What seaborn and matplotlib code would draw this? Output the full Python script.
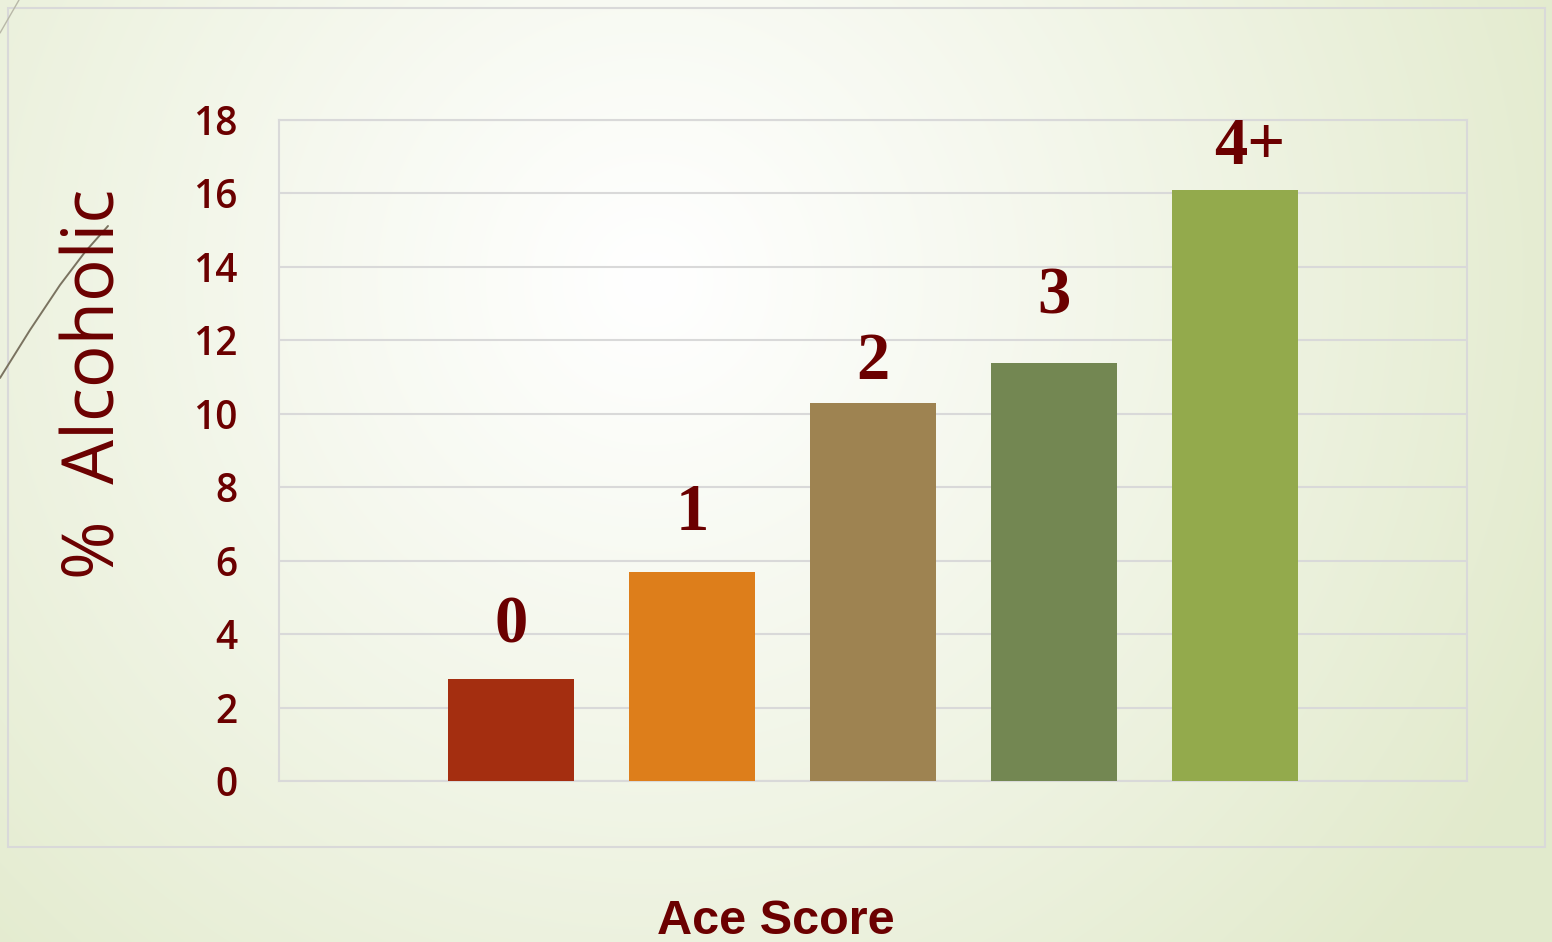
import numpy as np
import pandas as pd
import matplotlib
matplotlib.use("Agg")
import matplotlib.pyplot as plt
from matplotlib.patches import Rectangle
import seaborn as sns

# ---- data ----
categories = ["0", "1", "2", "3", "4+"]
values = [2.78, 5.69, 10.29, 11.38, 16.09]
bar_colors = ["#a42e10", "#dd7e1b", "#9e8351", "#738752", "#93aa4c"]
y_ticks = [0, 2, 4, 6, 8, 10, 12, 14, 16, 18]
label_offsets = [1.45, 1.6, 1.1, 1.8, 1.15]

DARK = "#6b0000"

sns.set_theme(style="white")
plt.rcParams["font.family"] = ["Open Sans", "DejaVu Sans"]

W, H = 1552, 942
fig = plt.figure(figsize=(W / 100, H / 100), dpi=100)

# background radial gradient
bg = fig.add_axes([0, 0, 1, 1], zorder=-10)
yy, xx = np.mgrid[0:H, 0:W]
cx, cy = 650, 280
r = np.sqrt((xx - cx) ** 2 + (yy - cy) ** 2)
t = np.clip(r / 1000.0, 0, 1) ** 1.1
c0 = np.array([1.0, 1.0, 1.0])
c1 = np.array([0.886, 0.918, 0.800])
img = c0[None, None, :] * (1 - t[..., None]) + c1[None, None, :] * t[..., None]
bg.imshow(img, extent=[0, W, H, 0], aspect="auto")
bg.set_xlim(0, W)
bg.set_ylim(H, 0)
bg.axis("off")

# outer chart frame
bg.add_patch(Rectangle((8, 8), 1537, 839, fill=False, edgecolor="#d9d9d9", lw=1.5))
# decorative lines
bg.plot([0, 30, 60, 85, 108], [378, 330, 285, 252, 226], color="#7a7360", lw=1.4)
bg.plot([0, 19], [33, 0], color="#b8b8a8", lw=1.0)

ax = fig.add_axes([279 / W, 1 - 781 / H, (1467 - 279) / W, (781 - 120) / H])
ax.patch.set_alpha(0)

df = pd.DataFrame({"score": categories, "pct": values})
sns.barplot(data=df, x="score", y="pct", hue="score", palette=bar_colors,
            order=categories, hue_order=categories, width=0.70,
            legend=False, ax=ax, saturation=1, zorder=3, linewidth=0,
            edgecolor="none")

ax.set_xlim(-1.2818, 5.2818)
ax.set_ylim(0, 18)
ax.set_yticks(y_ticks)
ax.set_yticklabels([str(v) for v in y_ticks], fontsize=28, fontweight="semibold",
                   color=DARK)
ax.tick_params(axis="y", length=0, pad=30)
ax.set_xticks([])
ax.grid(axis="y", color="#d9d9d9", lw=1.5, zorder=0)
ax.set_axisbelow(True)
for s in ax.spines.values():
    s.set_color("#d9d9d9")
    s.set_linewidth(1.5)

for i, (cat, v) in enumerate(zip(categories, values)):
    ax.text(i + (0.08 if len(cat) > 1 else 0), v + label_offsets[i], cat,
            ha="center", va="center",
            fontsize=48, fontweight="bold", family="Liberation Serif", color=DARK)

ax.set_xlabel("")
ax.set_ylabel("")
fig.text(96 / W, 1 - 384 / H, "%  Alcoholic", rotation=90, ha="center", va="center",
         fontsize=51, fontweight="medium", color=DARK, family="Open Sans")
fig.text(776 / W, 1 - 921 / H, "Ace Score", ha="center", va="center",
         fontsize=35, fontweight="bold", family="Liberation Sans", color=DARK)

fig.savefig("out.png", dpi=100)
